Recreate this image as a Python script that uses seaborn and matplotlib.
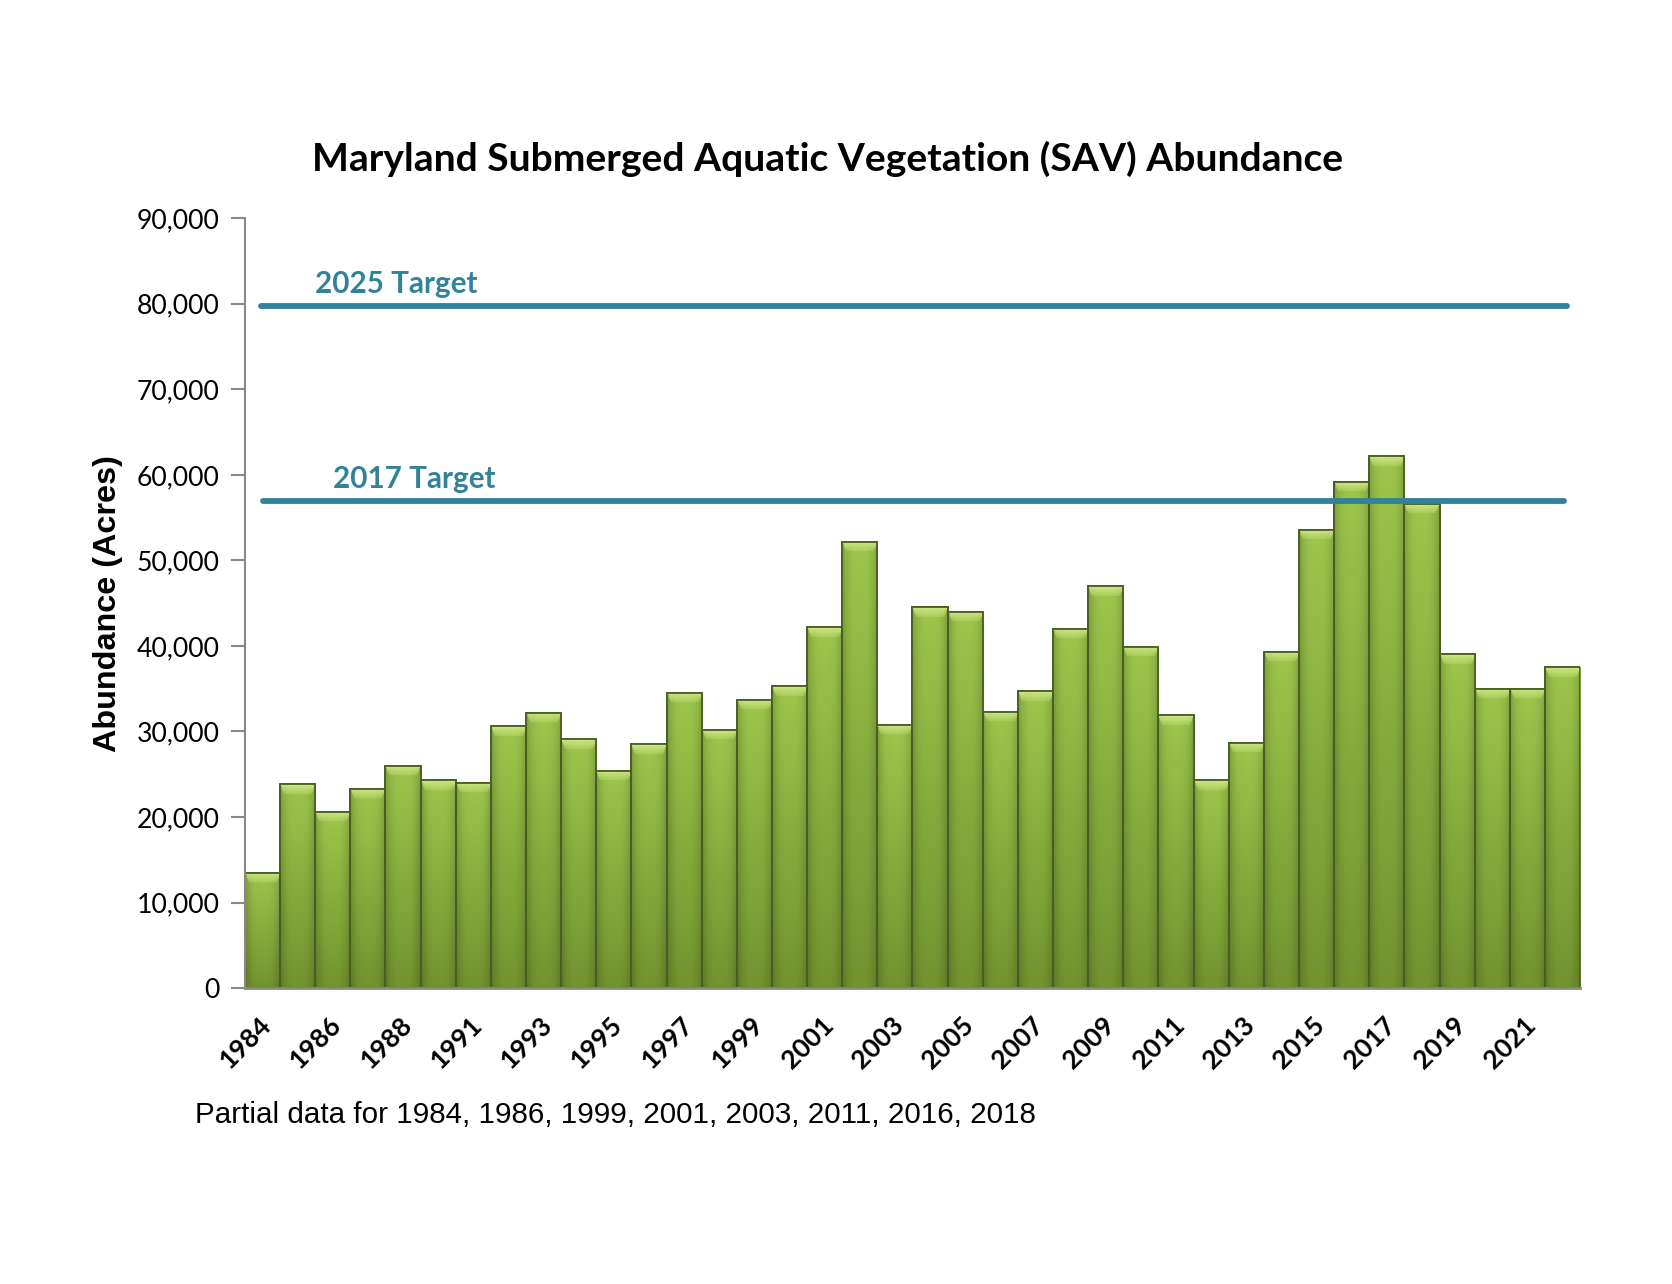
import numpy as np
import pandas as pd
import matplotlib
matplotlib.use("Agg")
import matplotlib.pyplot as plt
import matplotlib.colors as mcolors
from matplotlib.ticker import FuncFormatter
import seaborn as sns

# ---- data ----
years = [1984, 1985, 1986, 1987, 1988] + list(range(1990, 2023))
acres = [13500, 23800, 20600, 23300, 26000, 24300, 24000, 30600, 32200, 29100,
         25400, 28500, 34500, 30200, 33700, 35300, 42200, 52200, 30800, 44500,
         44000, 32300, 34700, 42000, 47000, 39900, 31900, 24300, 28700, 39300,
         53600, 59200, 62200, 56600, 39000, 35000, 35000, 37500]
target_names = ["2025 Target", "2017 Target"]
target_values = [79800, 57000]
yticks = list(range(0, 90001, 10000))
title = "Maryland Submerged Aquatic Vegetation (SAV) Abundance"
ylabel = "Abundance (Acres)"
footnote = "Partial data for 1984, 1986, 1999, 2001, 2003, 2011, 2016, 2018"

df = pd.DataFrame({"year": [str(y) for y in years], "acres": acres})

sns.set_theme(style="white")
plt.rcParams["font.family"] = ["Lato", "DejaVu Sans"]
plt.rcParams.update({"text.color": "black", "axes.labelcolor": "black",
                     "xtick.color": "black", "ytick.color": "black"})

fig = plt.figure(figsize=(16.72, 12.84), dpi=100)
ax = fig.add_axes([0.1465, 0.2305, 0.945 - 0.1465, 0.83 - 0.2305])

sns.barplot(data=df, x="year", y="acres", ax=ax, color="#8DB33F", width=1.0,
            edgecolor="#4A5E22", linewidth=1.2, saturation=1)

ax.set_xlim(-0.5, len(years) - 0.5)
ax.set_ylim(0, 90000)

# gradient fill for each bar
top_c = np.array(mcolors.to_rgb("#9DC74C"))
bot_c = np.array(mcolors.to_rgb("#72932F"))
cap_c = np.array(mcolors.to_rgb("#CFE685"))
fig.canvas.draw()
for p in list(ax.patches):
    x0 = p.get_x(); w = p.get_width(); h = p.get_height()
    if h <= 0:
        continue
    (_, py0), (_, py1) = ax.transData.transform([(x0, 0), (x0, h)])
    hp = max(py1 - py0, 1)
    nr = int(hp); nc = 40
    t = np.linspace(0, 1, nr)[:, None]
    col = top_c[None, None, :] * (1 - t[..., None]) + bot_c[None, None, :] * t[..., None]
    col = np.repeat(col, nc, axis=1)
    xs = np.linspace(-1, 1, nc)
    shade = 1 - 0.2 * np.abs(xs) ** 3
    col = col * shade[None, :, None]
    cap = 10
    for r in range(min(cap, nr)):
        inset = r / cap
        xi = np.abs(xs) < (1 - 0.2 * inset)
        f = 0.8 * (1 - r / cap) + 0.2
        col[r, xi, :] = col[r, xi, :] * (1 - f) + cap_c * f
    col = np.clip(col, 0, 1)
    im = ax.imshow(col, extent=(x0, x0 + w, 0, h), aspect="auto",
                   interpolation="bilinear", zorder=p.get_zorder() + 0.1)
    im.set_clip_path(p)
    edge = plt.Rectangle((x0, 0), w, h, fill=False, edgecolor="#4A5E22",
                         linewidth=1.3, zorder=p.get_zorder() + 0.2)
    ax.add_patch(edge)

# target lines
teal = "#31829A"
line_x = [(-0.05, 37.13), (0.0, 37.05)]
text_x = [1.5, 2.0]
for name, val, (xa, xb), tx in zip(target_names, target_values, line_x, text_x):
    ax.plot([xa, xb], [val, val], color=teal, linewidth=4.2, solid_capstyle="round", zorder=5)
    ax.text(tx, val + 900, name, color=teal, fontsize=21.3, fontweight="bold",
            ha="left", va="bottom", zorder=6)

# axes styling
for s in ["top", "right"]:
    ax.spines[s].set_visible(False)
ax.spines["left"].set_color("#888888")
ax.spines["left"].set_linewidth(1.5)
ax.spines["bottom"].set_color("#888888")
ax.spines["bottom"].set_linewidth(2)
ax.set_yticks(yticks)
ax.yaxis.set_major_formatter(FuncFormatter(lambda v, pos: f"{int(v):,}"))
ax.tick_params(axis="y", which="major", direction="out", length=10, width=1.5,
               color="#888888", labelsize=19.2, pad=8, left=True, labelcolor="black")
ax.tick_params(axis="x", length=0, pad=6, labelcolor="black")

xt = list(range(0, len(years), 2))
ax.set_xticks(xt)
ax.set_xticklabels([str(years[i]) for i in xt], rotation=45, ha="right",
                   rotation_mode="anchor", fontsize=19, fontweight="bold")
for lab in ax.get_xticklabels():
    lab.set_transform(lab.get_transform() + matplotlib.transforms.ScaledTranslation(-0.04, -0.16, fig.dpi_scale_trans))

ax.set_xlabel("")
ax.set_ylabel(ylabel, fontsize=23.3, fontweight="bold", family=["Liberation Sans", "DejaVu Sans"])
ax.yaxis.set_label_coords(-0.091, 0.5)

fig.text(0.495, 0.876, title, ha="center", va="center", fontsize=28.1, fontweight="bold")
fig.text(0.1167, 0.1316, footnote, ha="left", va="center", fontsize=21.3,
         family=["Liberation Sans", "DejaVu Sans"])

fig.savefig("out.png", dpi=100, facecolor="white")
